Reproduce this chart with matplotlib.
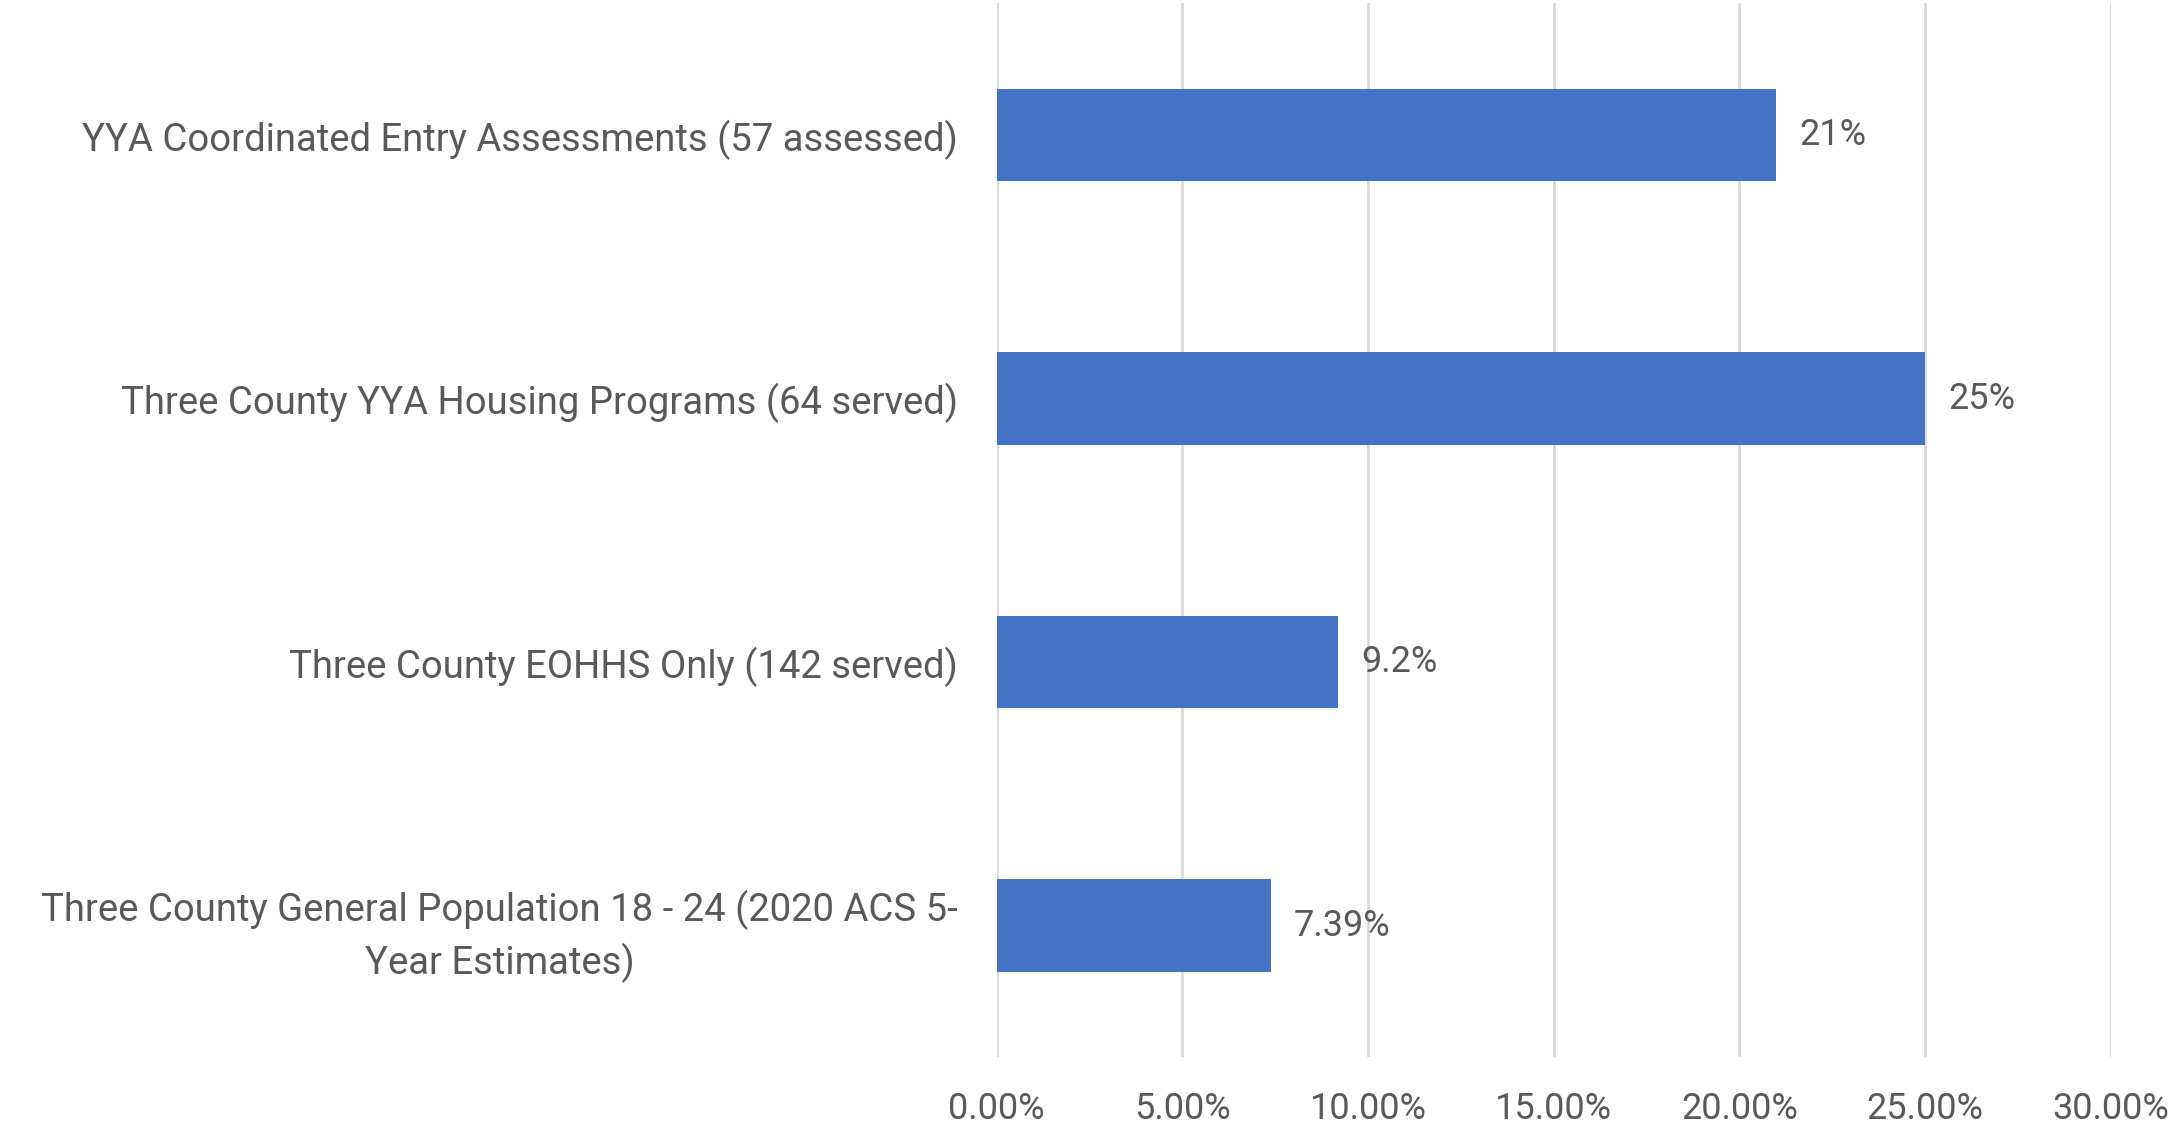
import matplotlib.pyplot as plt
from matplotlib.ticker import FuncFormatter

plt.rcParams['font.family'] = ['Roboto', 'DejaVu Sans']

categories = [
    "YYA Coordinated Entry Assessments (57 assessed)",
    "Three County YYA Housing Programs (64 served)",
    "Three County EOHHS Only (142 served)",
    "Three County General Population 18 - 24 (2020 ACS 5-\nYear Estimates)",
]
values = [21, 25, 9.2, 7.39]
value_labels = ["21%", "25%", "9.2%", "7.39%"]
ticks = [0, 5, 10, 15, 20, 25, 30]

grey = "#595959"

fig = plt.figure(figsize=(21.76, 11.26), dpi=100)
ax = fig.add_axes([0.458, 0.061, 0.512, 0.936])

pos = list(range(len(categories)))
ax.barh(pos, values, height=0.35, color="#4472C4", zorder=3)
for p, v, lab in zip(pos, values, value_labels):
    ax.annotate(lab, (v, p), xytext=(23, 0), textcoords="offset pixels",
                va="center", ha="left", fontsize=26, color=grey)

ax.set_xlim(0, 30)
ax.set_ylim(len(categories) - 0.5, -0.5)
ax.set_xticks(ticks)
ax.xaxis.set_major_formatter(FuncFormatter(lambda x, _: f"{x:.2f}%"))
ax.set_yticks(pos)
ax.set_yticklabels(categories, multialignment="center", linespacing=1.4)
ax.tick_params(axis="x", length=0, pad=24, labelsize=26, labelcolor=grey)
ax.tick_params(axis="y", length=0, pad=28, labelsize=27.5, labelcolor=grey)
ax.grid(axis="x", color="#d9d9d9", linewidth=2, zorder=0)
for s in ax.spines.values():
    s.set_visible(False)

fig.savefig("out.png", dpi=100)
